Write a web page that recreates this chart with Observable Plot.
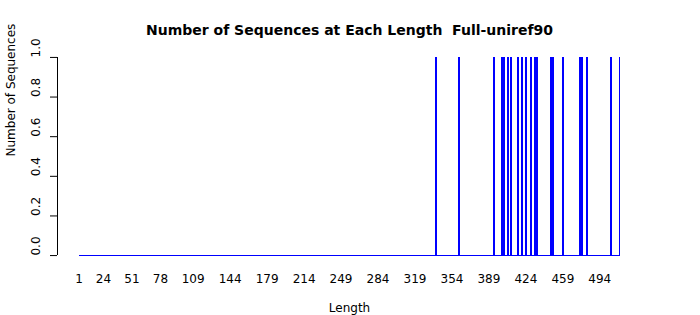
<!DOCTYPE html>
<html>
<head>
<meta charset="utf-8">
<script src="https://cdn.jsdelivr.net/npm/d3@7"></script>
<script src="https://cdn.jsdelivr.net/npm/@observablehq/plot@0.6"></script>
<style>
  html, body { margin: 0; padding: 0; background: #fff; }
  #chart svg { font-family: "DejaVu Sans", sans-serif; }
  #chart svg text { white-space: pre; }
</style>
</head>
<body>
<div id="chart"></div>
<script>
// Data
const titleText = "Number of Sequences at Each Length  Full-uniref90";
const xLabel = "Length";
const yLabel = "Number of Sequences";
const minLength = 1;
const maxLength = 513;
const spikeLengths = [338, 360, 393, 401, 403, 407, 409, 416, 420, 424, 428, 432, 434, 447, 449, 459, 475, 477, 481, 504, 513];
const spikeCounts  = [1, 1, 1, 1, 1, 1, 1, 1, 1, 1, 1, 1, 1, 1, 1, 1, 1, 1, 1, 1, 1];
const xTicks = [1, 24, 51, 78, 109, 144, 179, 214, 249, 284, 319, 354, 389, 424, 459, 494];
const yTicks = [0, 0.2, 0.4, 0.6, 0.8, 1.0];

// Full series: every length, count 0 unless listed
const countByLength = new Map(spikeLengths.map((l, i) => [l, spikeCounts[i]]));
const series = d3.range(minLength, maxLength + 1).map(l => ({length: l, count: countByLength.get(l) ?? 0}));

// R-style 4% axis expansion
const xPad = (maxLength - minLength) * 0.04;
const xDomain = [minLength - xPad, maxLength + xPad];
const yDomain = [-0.04, 1.04];

const chart = Plot.plot({
  width: 700,
  height: 315,
  marginLeft: 57,
  marginRight: 59,
  marginTop: 49,
  marginBottom: 52,
  style: {fontFamily: "DejaVu Sans, sans-serif", fontSize: "12px", color: "#000", background: "#fff"},
  x: {domain: xDomain, axis: null},
  y: {domain: yDomain, axis: null},
  marks: [
    Plot.lineY(series, {x: "length", y: "count", stroke: "#0000ff", strokeWidth: 1, curve: "step-after", shapeRendering: "crispEdges"}),
    // y axis line (spans 0..1 only, R style)
    Plot.ruleX([xDomain[0]], {y1: 0, y2: 1, stroke: "#000", shapeRendering: "crispEdges"}),
    Plot.axisY({ticks: yTicks, tickSize: 7, tickFormat: () => "", label: null, anchor: "left"}),
    Plot.text(yTicks, {y: d => d, frameAnchor: "left", dx: -21, rotate: -90, lineAnchor: "middle", text: d => d3.format(".1f")(d), fontSize: 12, fill: "#000"}),
    Plot.text(xTicks, {x: d => d, frameAnchor: "bottom", dy: 16, lineAnchor: "middle", text: d => String(d), fontSize: 12, fill: "#000"}),
    Plot.text([yLabel], {frameAnchor: "left", dx: -46, rotate: -90, lineAnchor: "middle", text: d => d, fontSize: 12, fill: "#000"}),
    Plot.text([xLabel], {frameAnchor: "bottom", dy: 45, lineAnchor: "middle", text: d => d, fontSize: 12, fill: "#000"}),
    Plot.text([titleText], {frameAnchor: "top", dy: -19, lineAnchor: "middle", text: d => d, fontSize: 14, fontWeight: "bold", fill: "#000"})
  ]
});
document.getElementById("chart").appendChild(chart);
</script>
</body>
</html>
